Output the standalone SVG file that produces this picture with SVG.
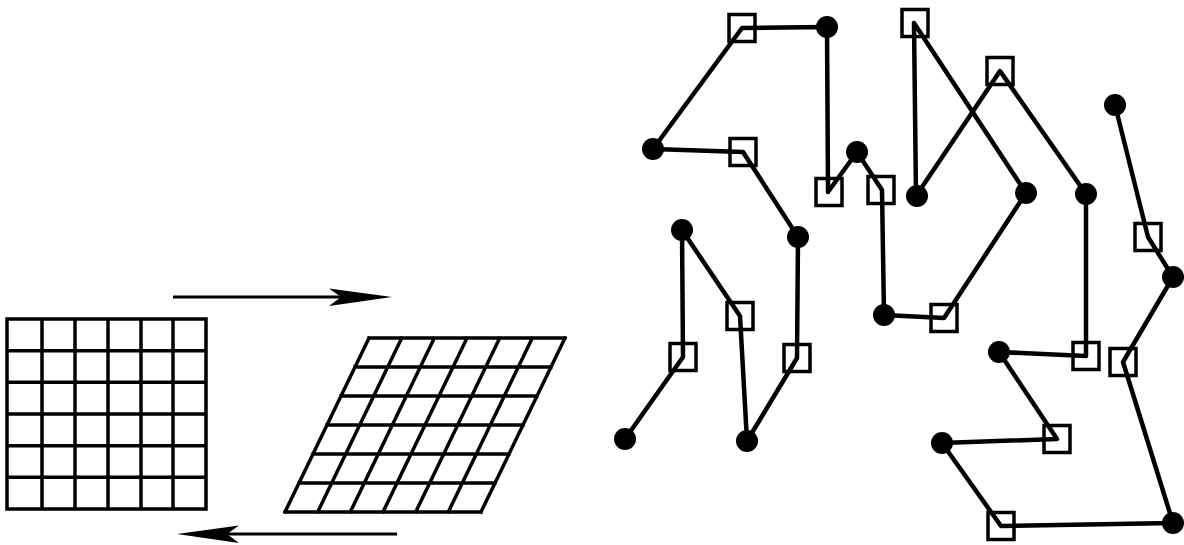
<svg xmlns="http://www.w3.org/2000/svg" width="1184" height="545" viewBox="0 0 1184 545">
<style>
.g{fill:none;stroke:#000;stroke-width:3.5;stroke-linecap:square}
.e{fill:none;stroke:#000;stroke-width:4.5;stroke-linejoin:round;stroke-linecap:round}
.sq{fill:none;stroke:#000;stroke-width:3.5}
.dot{fill:#000}
.ar{fill:none;stroke:#000;stroke-width:3}
.ah{fill:#000}
</style>
<defs>
<rect id="s" x="-13" y="-13.5" width="26" height="27" class="sq"/>
<circle id="c" r="11" class="dot"/>
</defs>
<rect width="1184" height="545" fill="#fff"/>
<g id="grid-square">
<path class="g" d="M7 319V509M42 319V509M75 319V509M108 319V509M141 319V509M173 319V509M206 319V509M7 319H206M7 350.7H206M7 382.3H206M7 414H206M7 445.7H206M7 477.3H206M7 509H206"/>
</g>
<g id="grid-sheared">
<path class="g" d="M369 338L285 512M401.7 338L317.7 512M434.3 338L350.3 512M467 338L383 512M499.7 338L415.7 512M532.3 338L448.3 512M565 338L481 512M369 338H565M355 367H551M341 396H537M327 425H523M313 454H509M299 483H495M285 512H481"/>
</g>
<g id="arrow-right">
<path class="ar" d="M173 297H345"/>
<path class="ah" d="M392 297L329 288.5L341 297L329 306Z"/>
</g>
<g id="arrow-left">
<path class="ar" d="M397 534H224"/>
<path class="ah" d="M177 534L239 525.5L227 534L239 543Z"/>
</g>
<g id="connectors">
<polyline class="e" points="625,439 683,357 682,230 740,316 747,441 797,358 798,237 743,152 653,149 742,28 827,27 828,192 857,152 882,190 884,315 944,318 1026,193 914,23 916,196 1000,71 1086,194 1086,356 999,352 1057,439 942,443 1001,526 1173,523 1123,362 1173,277 1148,237 1115,105"/>
</g>
<g id="N"><use href="#c" x="625" y="439"/></g>
<g id="L"><use href="#s" x="683" y="357"/></g>
<g id="J"><use href="#c" x="682" y="230"/></g>
<g id="K"><use href="#s" x="740" y="316"/></g>
<g id="O"><use href="#c" x="747" y="441"/></g>
<g id="M"><use href="#s" x="797" y="358"/></g>
<g id="I"><use href="#c" x="798" y="237"/></g>
<g id="D"><use href="#s" x="743" y="152"/></g>
<g id="C"><use href="#c" x="653" y="149"/></g>
<g id="A"><use href="#s" x="742" y="28"/></g>
<g id="B"><use href="#c" x="827" y="27"/></g>
<g id="F"><use href="#s" x="829" y="192"/></g>
<g id="E"><use href="#c" x="857" y="152"/></g>
<g id="G"><use href="#s" x="881" y="190"/></g>
<g id="P"><use href="#c" x="884" y="315"/></g>
<g id="W"><use href="#s" x="944" y="318"/></g>
<g id="S"><use href="#c" x="1026" y="193"/></g>
<g id="H"><use href="#s" x="915" y="23"/></g>
<g id="R"><use href="#c" x="917" y="196"/></g>
<g id="Q"><use href="#s" x="1000" y="71"/></g>
<g id="T"><use href="#c" x="1086" y="194"/></g>
<g id="Y"><use href="#s" x="1086" y="356"/></g>
<g id="AA"><use href="#c" x="999" y="352"/></g>
<g id="AB"><use href="#s" x="1057" y="439"/></g>
<g id="AC"><use href="#c" x="942" y="443"/></g>
<g id="AD"><use href="#s" x="1001" y="526"/></g>
<g id="AE"><use href="#c" x="1173" y="523"/></g>
<g id="Z"><use href="#s" x="1123" y="362"/></g>
<g id="X"><use href="#c" x="1173" y="277"/></g>
<g id="V"><use href="#s" x="1148" y="237"/></g>
<g id="U"><use href="#c" x="1115" y="105"/></g>
</svg>
